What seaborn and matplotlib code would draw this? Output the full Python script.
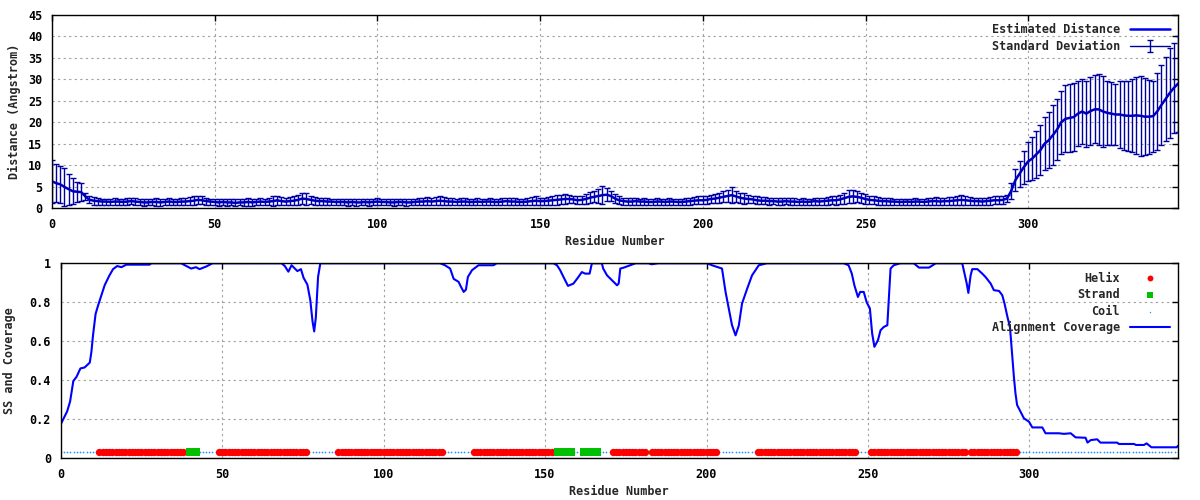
import numpy as np
import pandas as pd
import seaborn as sns
import matplotlib.pyplot as plt
from matplotlib.ticker import FuncFormatter

sns.set_style("white")
plt.rcParams['font.family'] = ['DejaVu Sans Mono', 'DejaVu Sans']
plt.rcParams['font.weight'] = 'bold'
plt.rcParams['axes.labelweight'] = 'bold'
plt.rcParams['font.size'] = 8.5

# --- distance estimates (271 positions over residues 0-346) ---
dist_res = np.linspace(0, 346, 271)
dist_mean = [
    6.2, 5.8, 5.5, 4.9, 4.4, 3.9, 3.8, 3.7, 2.7, 1.9,
    1.7, 1.6, 1.5, 1.5, 1.4, 1.5, 1.5, 1.4, 1.5, 1.6,
    1.5, 1.4, 1.3, 1.3, 1.4, 1.4, 1.3, 1.4, 1.5, 1.4,
    1.4, 1.5, 1.5, 1.6, 1.7, 1.9, 1.8, 1.6, 1.5, 1.4,
    1.3, 1.4, 1.3, 1.3, 1.2, 1.3, 1.3, 1.4, 1.3, 1.4,
    1.5, 1.4, 1.5, 1.6, 1.8, 1.6, 1.5, 1.6, 1.7, 1.9,
    2.2, 2.1, 1.9, 1.7, 1.6, 1.6, 1.5, 1.5, 1.4, 1.4,
    1.4, 1.3, 1.4, 1.3, 1.3, 1.4, 1.3, 1.4, 1.5, 1.4,
    1.4, 1.3, 1.3, 1.4, 1.4, 1.3, 1.3, 1.4, 1.5, 1.5,
    1.6, 1.5, 1.6, 1.7, 1.6, 1.5, 1.5, 1.4, 1.5, 1.5,
    1.4, 1.4, 1.5, 1.4, 1.5, 1.5, 1.4, 1.4, 1.5, 1.6,
    1.5, 1.5, 1.4, 1.4, 1.5, 1.6, 1.7, 1.6, 1.6, 1.7,
    1.8, 1.9, 2.0, 2.1, 2.1, 2.0, 1.8, 1.9, 2.1, 2.4,
    2.6, 2.8, 3.0, 3.1, 2.8, 2.2, 1.8, 1.6, 1.5, 1.5,
    1.6, 1.5, 1.5, 1.4, 1.4, 1.5, 1.5, 1.4, 1.5, 1.5,
    1.4, 1.4, 1.5, 1.6, 1.7, 1.8, 1.8, 1.9, 2.1, 2.2,
    2.4, 2.6, 2.8, 3.0, 2.7, 2.4, 2.2, 2.1, 2.0, 1.8,
    1.7, 1.7, 1.6, 1.6, 1.5, 1.5, 1.6, 1.5, 1.5, 1.4,
    1.5, 1.4, 1.5, 1.6, 1.5, 1.6, 1.7, 1.8, 1.8, 2.0,
    2.3, 2.6, 2.7, 2.6, 2.4, 2.1, 1.9, 1.8, 1.7, 1.6,
    1.6, 1.5, 1.5, 1.4, 1.4, 1.5, 1.4, 1.5, 1.5, 1.4,
    1.5, 1.6, 1.6, 1.5, 1.6, 1.6, 1.7, 1.8, 1.9, 1.8,
    1.7, 1.6, 1.6, 1.5, 1.6, 1.7, 1.8, 1.8, 1.9,
    2.2, 4.0, 6.5, 8.0, 9.5, 10.8, 11.5, 12.5, 13.5, 15.0,
    15.8, 17.0, 18.3, 20.0, 20.8, 21.0, 21.2, 22.0, 22.5, 22.0,
    22.6, 23.0, 23.0, 22.5, 22.2, 22.0, 21.8, 21.8, 21.6, 21.5,
    21.5, 21.6, 21.5, 21.3, 21.3, 21.4, 22.5, 24.0, 25.4, 26.8,
    28.0, 29.0,
]
dist_std = [
    5.0, 4.5, 4.3, 4.4, 3.6, 3.0, 2.3, 2.1, 0.9, 0.8,
    0.9, 0.8, 0.7, 0.7, 0.7, 0.8, 0.7, 0.7, 0.8, 0.7,
    0.8, 0.7, 0.8, 0.7, 0.8, 0.9, 0.8, 0.7, 0.8, 0.8,
    0.7, 0.8, 0.8, 0.9, 1.0, 1.0, 0.9, 0.8, 0.7, 0.8,
    0.8, 0.7, 0.8, 0.7, 0.8, 0.7, 0.8, 0.9, 0.8, 0.8,
    0.9, 0.8, 0.9, 1.1, 1.1, 0.9, 0.8, 0.9, 1.1, 1.2,
    1.3, 1.3, 1.0, 0.9, 0.8, 0.8, 0.8, 0.7, 0.8, 0.8,
    0.8, 0.8, 0.7, 0.8, 0.7, 0.8, 0.8, 0.7, 0.8, 0.8,
    0.8, 0.7, 0.8, 0.8, 0.7, 0.8, 0.7, 0.8, 0.8, 0.9,
    1.0, 0.9, 1.0, 1.0, 0.9, 0.8, 0.8, 0.7, 0.8, 0.8,
    0.8, 0.7, 0.8, 0.8, 0.7, 0.8, 0.8, 0.7, 0.8, 0.8,
    0.8, 0.8, 0.7, 0.8, 0.8, 0.9, 1.0, 0.8, 0.8, 0.9,
    1.0, 1.1, 1.1, 1.1, 1.0, 0.9, 0.9, 1.0, 1.2, 1.3,
    1.3, 1.6, 2.1, 1.5, 1.2, 1.0, 0.9, 0.8, 0.8, 0.8,
    0.8, 0.7, 0.8, 0.8, 0.7, 0.8, 0.7, 0.8, 0.8, 0.7,
    0.8, 0.7, 0.8, 0.8, 0.8, 0.9, 0.9, 1.0, 1.0, 1.1,
    1.2, 1.3, 1.5, 1.9, 1.3, 1.2, 1.2, 1.0, 0.9, 0.9,
    0.8, 0.8, 0.8, 0.7, 0.8, 0.8, 0.7, 0.8, 0.8, 0.7,
    0.8, 0.8, 0.7, 0.8, 0.8, 0.8, 0.9, 0.9, 1.0, 1.1,
    1.3, 1.5, 1.6, 1.3, 1.2, 1.1, 1.0, 0.9, 0.9, 0.8,
    0.8, 0.8, 0.7, 0.8, 0.8, 0.7, 0.8, 0.8, 0.7, 0.8,
    0.8, 0.8, 0.9, 0.8, 0.8, 0.9, 0.9, 1.0, 1.2, 1.0,
    0.9, 0.8, 0.8, 0.8, 0.8, 0.9, 0.9, 0.9, 0.9,
    0.8, 1.8, 2.5, 3.0, 3.8, 4.5, 5.0, 5.5, 5.8, 6.2,
    6.5, 7.0, 7.0, 7.3, 7.8, 7.9, 8.0, 7.6, 7.5, 7.7,
    8.0, 7.9, 8.3, 8.3, 7.5, 7.4, 7.2, 7.8, 8.0, 8.2,
    8.5, 9.0, 9.3, 9.0, 8.6, 8.3, 8.9, 9.4, 9.7, 10.5,
    10.4, 11.2,
]

# --- alignment coverage ---
cov_res = [
    0, 0.8, 2, 2.9, 3.9, 4.9, 6.1, 7.4, 9, 9.5, 10, 10.8, 11.6, 12.6, 13.6,
    15, 16.2, 17.5, 18.8, 20.3, 27.5, 28, 37.3, 38.9, 40.4, 41.9, 43, 45, 47,
    68.4, 69.4, 70.5, 71.5, 73.3, 74.4, 75.2, 76.4, 77.3, 78, 78.5, 79.0, 79.3,
    79.7, 80.4, 117.5, 119, 120.6, 121.7, 123.2, 124, 124.8, 125.5, 126.1,
    127.4, 129.4, 134, 135, 152.6, 153.7, 154.7, 155.7, 157.1, 158.8, 159.9,
    161.4, 162.4, 163.8, 164.5, 167.6, 168, 169.2, 171.2, 172.3, 172.8, 173.3,
    174.4, 176.4, 178, 182, 183, 185, 200.2, 201.7, 204.8, 205.9, 206.9, 207.9,
    209, 210, 211, 212.6, 214.1, 216.2, 218.7, 242.5, 244, 245, 245.8, 246.9,
    247.6, 248.7, 249.6, 250.6, 251.3, 252, 253.1, 253.9, 254.9, 256, 256.5,
    257, 258, 260, 264.2, 265.8, 268.9, 271, 279.2, 279.9, 280.6, 281.1, 281.8,
    282.3, 283.9, 285.4, 286.4, 288, 289, 290.6, 291.6, 292.3, 293.2, 294,
    294.7, 295.2, 295.7, 296.2, 297.3, 298.3, 299.9, 300.9, 304, 305, 309.1,
    310.7, 312.8, 314.3, 317.4, 318, 319, 321, 322, 327.2, 327.7, 332.4, 333,
    335.5, 336.3, 337.8, 345.6, 346,
]
cov_val = [
    0.173, 0.20, 0.24, 0.29, 0.395, 0.417, 0.46, 0.465, 0.49, 0.545, 0.63, 0.74,
    0.785, 0.836, 0.887, 0.935, 0.97, 0.986, 0.98, 0.993, 0.993, 1.0, 1.0,
    0.986, 0.973, 0.98, 0.97, 0.983, 1.0, 1.0, 0.986, 0.957, 0.99, 0.96, 0.97,
    0.926, 0.89, 0.81, 0.70, 0.65, 0.72, 0.81, 0.93, 1.0, 1.0, 0.99, 0.973,
    0.92, 0.905, 0.878, 0.853, 0.865, 0.93, 0.965, 0.99, 0.99, 1.0, 1.0, 0.99,
    0.964, 0.93, 0.884, 0.896, 0.92, 0.955, 0.947, 0.947, 1.0, 1.0, 0.973,
    0.938, 0.905, 0.887, 0.896, 0.973, 0.978, 0.99, 1.0, 1.0, 0.995, 1.0, 1.0,
    0.99, 0.973, 0.853, 0.768, 0.682, 0.63, 0.68, 0.793, 0.87, 0.938, 0.99,
    1.0, 1.0, 0.99, 0.947, 0.887, 0.827, 0.853, 0.853, 0.80, 0.768, 0.64,
    0.571, 0.605, 0.656, 0.673, 0.682, 0.827, 0.973, 0.99, 1.0, 1.0, 0.978,
    0.978, 1.0, 1.0, 0.947, 0.896, 0.848, 0.938, 0.97, 0.97, 0.947, 0.93,
    0.896, 0.862, 0.858, 0.836, 0.793, 0.725, 0.67, 0.52, 0.417, 0.33, 0.272,
    0.237, 0.204, 0.186, 0.157, 0.157, 0.127, 0.127, 0.124, 0.127, 0.106,
    0.104, 0.079, 0.092, 0.096, 0.079, 0.079, 0.072, 0.072, 0.067, 0.067,
    0.075, 0.055, 0.055, 0.062,
]

# --- secondary structure (residue ranges, inclusive) ---
helix = [(12, 38), (49, 76), (86, 118), (128, 152), (171, 181),
         (183, 203), (216, 246), (251, 280), (282, 296)]
strand = [(40, 42), (154, 158), (162, 166)]
n_res = 347
ss_level = 0.03

helix_x = [r for a, b in helix for r in range(a, b + 1)]
strand_x = [r for a, b in strand for r in range(a, b + 1)]
coil_x = [r for r in range(n_res) if r not in helix_x and r not in strand_x]

dist = pd.DataFrame({'res': dist_res, 'mean': dist_mean, 'std': dist_std})
cov = pd.DataFrame({'res': cov_res, 'cov': cov_val})


def style(ax):
    ax.grid(True, color='#a0a0a0', ls=(0, (2, 3)), lw=0.8)
    ax.tick_params(direction='in', length=4, width=1, top=True, right=True,
                   labelsize=8.5, pad=7, colors='black')
    for s in ax.spines.values():
        s.set_linewidth(1)
        s.set_color('black')
    ax.set_xlim(0, 346)
    ax.set_xticks(range(0, 301, 50))


fig = plt.figure(figsize=(12, 5), dpi=100)
ax1 = fig.add_axes([0.0433, 0.584, 0.9384, 0.386])
ax2 = fig.add_axes([0.0506, 0.084, 0.931, 0.3894])

# top: distance
err = ax1.errorbar(dist['res'], dist['mean'], yerr=dist['std'], fmt='-',
                   color='#0000a0', lw=1, elinewidth=1, capsize=2, capthick=1,
                   label='Standard Deviation')
sns.lineplot(data=dist, x='res', y='mean', ax=ax1, color='#0000f0', lw=1.8,
             sort=False, label='Estimated Distance')
style(ax1)
ax1.set_ylim(0, 45)
ax1.set_yticks(range(0, 46, 5))
ax1.set_xlabel('Residue Number', fontsize=8.5, labelpad=3)
ax1.set_ylabel('Distance (Angstrom)', fontsize=8.5, labelpad=5)
h, l = ax1.get_legend_handles_labels()
order = [l.index('Estimated Distance'), l.index('Standard Deviation')]
ax1.legend([h[i] for i in order], [l[i] for i in order], loc='upper right',
           frameon=False, markerfirst=False, alignment='right', fontsize=8.5,
           handlelength=3.4, handletextpad=0.8, labelspacing=0.3,
           borderaxespad=0.3)

# bottom: secondary structure and coverage
sns.scatterplot(x=coil_x, y=[ss_level] * len(coil_x), ax=ax2, color='#1e90ff',
                marker='o', s=1.5, linewidth=0, label='Coil')
sns.scatterplot(x=helix_x, y=[ss_level] * len(helix_x), ax=ax2, color='#ff0000',
                marker='o', s=28, linewidth=0, label='Helix')
sns.scatterplot(x=strand_x, y=[ss_level] * len(strand_x), ax=ax2, color='#00c000',
                marker='s', s=32, linewidth=0, label='Strand')
sns.lineplot(data=cov, x='res', y='cov', ax=ax2, color='#0000ff', lw=1.5,
             sort=False, label='Alignment Coverage')
style(ax2)
ax2.set_ylim(0, 1)
ax2.set_yticks([0, 0.2, 0.4, 0.6, 0.8, 1])
ax2.yaxis.set_major_formatter(FuncFormatter(lambda v, p: f'{v:g}'))
ax2.set_xlabel('Residue Number', fontsize=8.5, labelpad=3)
ax2.set_ylabel('SS and Coverage', fontsize=8.5, labelpad=10)
h, l = ax2.get_legend_handles_labels()
names = ['Helix', 'Strand', 'Coil', 'Alignment Coverage']
ax2.legend([h[l.index(n)] for n in names], names, loc='upper right',
           frameon=False, markerfirst=False, alignment='right', fontsize=8.5,
           handlelength=3.4, handletextpad=0.8, labelspacing=0.3,
           borderaxespad=0.3, markerscale=0.8)

fig.savefig('out.png', dpi=100)
